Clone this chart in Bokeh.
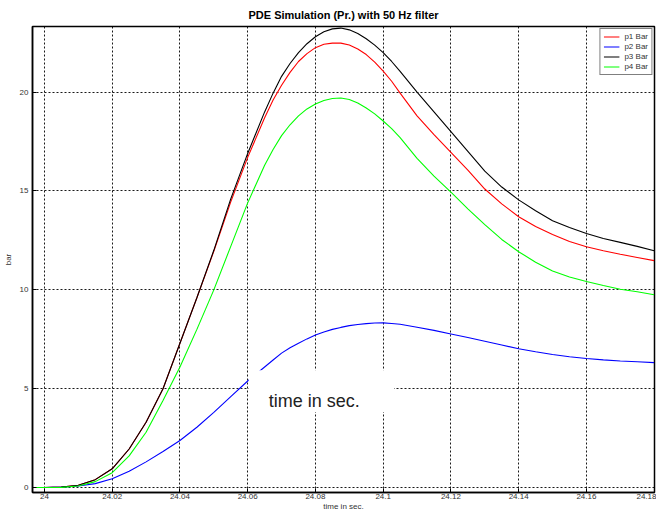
from bokeh.plotting import figure
from bokeh.models import (Range1d, FixedTicker, NumeralTickFormatter, Label,
                          BoxAnnotation, Legend)
from bokeh.embed import file_html
from bokeh.resources import INLINE

# ---------------- data ----------------
t = [23.9965, 24.000, 24.005, 24.010, 24.015, 24.020, 24.025, 24.030, 24.035,
     24.040, 24.045, 24.050, 24.055, 24.060, 24.065, 24.0675, 24.070, 24.0725,
     24.075, 24.0775, 24.080, 24.0825, 24.085, 24.0875, 24.090, 24.0925,
     24.095, 24.0975, 24.100, 24.1025, 24.105, 24.110, 24.115, 24.120, 24.125,
     24.130, 24.135, 24.140, 24.145, 24.150, 24.155, 24.160, 24.165, 24.170,
     24.175, 24.180]

p1 = [0.0, 0.0, 0.02, 0.12, 0.40, 0.95, 1.95, 3.3, 5.0,
      7.3, 9.6, 11.95, 14.45, 16.7, 18.7, 19.6, 20.35, 21.0,
      21.55, 21.95, 22.25, 22.42, 22.48, 22.48, 22.38, 22.18,
      21.9, 21.52, 21.06, 20.55, 19.95, 18.8, 17.85, 16.95, 16.05,
      15.1, 14.35, 13.7, 13.2, 12.8, 12.45, 12.18, 11.98, 11.8,
      11.64, 11.48]

p2 = [0.0, 0.0, 0.02, 0.08, 0.20, 0.45, 0.82, 1.3, 1.82,
      2.38, 3.05, 3.8, 4.6, 5.39, 6.1, 6.45, 6.8, 7.07,
      7.3, 7.52, 7.72, 7.87, 8.0, 8.1, 8.19, 8.25,
      8.29, 8.32, 8.33, 8.3, 8.26, 8.11, 7.95, 7.77, 7.59,
      7.40, 7.21, 7.02, 6.87, 6.73, 6.62, 6.53, 6.46, 6.40,
      6.36, 6.32]

p3 = [0.0, 0.0, 0.02, 0.12, 0.40, 0.95, 1.95, 3.3, 5.0,
      7.3, 9.6, 12.0, 14.6, 16.9, 19.0, 19.95, 20.8, 21.45,
      22.0, 22.45, 22.8, 23.05, 23.2, 23.24, 23.15, 22.97,
      22.7, 22.38, 22.0, 21.55, 21.05, 20.0, 19.0, 18.0, 17.0,
      16.0, 15.2, 14.55, 14.0, 13.5, 13.15, 12.85, 12.6, 12.4,
      12.2, 11.98]

p4 = [0.0, 0.0, 0.01, 0.08, 0.30, 0.75, 1.6, 2.8, 4.4,
      6.1, 8.0, 10.0, 12.2, 14.4, 16.3, 17.1, 17.8, 18.35,
      18.8, 19.15, 19.4, 19.58, 19.68, 19.7, 19.63, 19.45,
      19.2, 18.9, 18.54, 18.15, 17.7, 16.65, 15.75, 14.94, 14.1,
      13.3, 12.55, 11.93, 11.4, 10.95, 10.65, 10.42, 10.22, 10.03,
      9.9, 9.75]

series_names = ["p1 Bar", "p2 Bar", "p3 Bar", "p4 Bar"]
series_colors = ["#ff0000", "#0000ff", "#000000", "#00ff00"]

x_ticks = [24.00, 24.02, 24.04, 24.06, 24.08, 24.10, 24.12, 24.14, 24.16, 24.18]
x_tick_labels = ["24", "24.02", "24.04", "24.06", "24.08", "24.1", "24.12",
                 "24.14", "24.16", "24.18"]
y_ticks = [0, 5, 10, 15, 20]
y_tick_labels = ["0", "5", "10", "15", "20"]

title_text = "PDE Simulation (Pr.) with 50 Hz filter"
x_label = "time in sec."
y_label = "bar"
overlay_text = "time in sec."

FONT = "Liberation Sans"

# ---------------- figure ----------------
p = figure(width=656, height=513, output_backend="svg", toolbar_location=None,
           x_range=Range1d(23.99647, 24.1801), y_range=Range1d(-0.25, 23.32),
           min_border_left=31, min_border_right=2, min_border_top=24,
           min_border_bottom=20)
p.background_fill_color = "white"
p.border_fill_color = "white"
p.outline_line_color = "black"
p.outline_line_width = 1.5

p.title.text = title_text
p.title.text_font = FONT
p.title.text_font_size = "11px"
p.title.text_font_style = "bold"
p.title.text_color = "black"
p.title.align = "center"
p.title.standoff = 12
p.title.offset = 0

for ax in (p.xaxis[0], p.yaxis[0]):
    ax.major_tick_in = 4
    ax.major_tick_out = 0
    ax.minor_tick_line_color = None
    ax.axis_line_color = "black"
    ax.axis_line_width = 1.5
    ax.major_tick_line_color = "black"
    ax.major_label_text_font = FONT
    ax.major_label_text_font_size = "8px"
    ax.major_label_text_color = "#333333"
    ax.axis_label_text_font = FONT
    ax.axis_label_text_font_size = "8px"
    ax.axis_label_text_font_style = "normal"
    ax.axis_label_text_color = "#333333"

p.xaxis[0].axis_label = x_label
p.xaxis[0].axis_label_standoff = 0
p.xaxis[0].ticker = FixedTicker(ticks=x_ticks)
p.xaxis[0].formatter = NumeralTickFormatter(format="0.[00]")
p.xaxis[0].major_label_overrides = {tk: lb for tk, lb in zip(x_ticks, x_tick_labels)}
p.xaxis[0].major_label_standoff = 1

p.yaxis[0].axis_label = y_label
p.yaxis[0].axis_label_standoff = 4
p.yaxis[0].ticker = FixedTicker(ticks=y_ticks)
p.yaxis[0].major_label_overrides = {tk: lb for tk, lb in zip(y_ticks, y_tick_labels)}
p.yaxis[0].major_label_standoff = 4

p.xgrid[0].ticker = FixedTicker(ticks=x_ticks)
p.ygrid[0].ticker = FixedTicker(ticks=y_ticks)
for g in (p.xgrid[0], p.ygrid[0]):
    g.grid_line_color = "black"
    g.grid_line_dash = "2 2"
    g.grid_line_width = 1
    g.grid_line_alpha = 0.9

renderers = []
for name, col, ys in zip(series_names, series_colors, [p1, p2, p3, p4]):
    r = p.line(t, ys, line_color=col, line_width=1.1)
    renderers.append((name, [r]))

legend = Legend(items=renderers, location="top_right")
legend.label_text_font = FONT
legend.label_text_font_size = "8px"
legend.label_text_color = "#333333"
legend.glyph_width = 16
legend.glyph_height = 9
legend.label_height = 9
legend.spacing = 1
legend.padding = 3
legend.margin = 2
legend.label_standoff = 5
legend.border_line_color = "black"
legend.border_line_width = 1
legend.background_fill_color = "white"
legend.background_fill_alpha = 1
p.add_layout(legend)

# white box with the stray "time in sec." text
box = BoxAnnotation(left=24.0603, right=24.1032, bottom=3.82, top=5.93,
                    fill_color="white", fill_alpha=1, line_color=None)
p.add_layout(box)
p.add_layout(Label(x=24.0662, y=4.37, text=overlay_text, text_font=FONT,
                   text_font_size="18px", text_color="#222222",
                   text_align="left", text_baseline="alphabetic"))

open("out.html", "w").write(file_html(p, INLINE))
